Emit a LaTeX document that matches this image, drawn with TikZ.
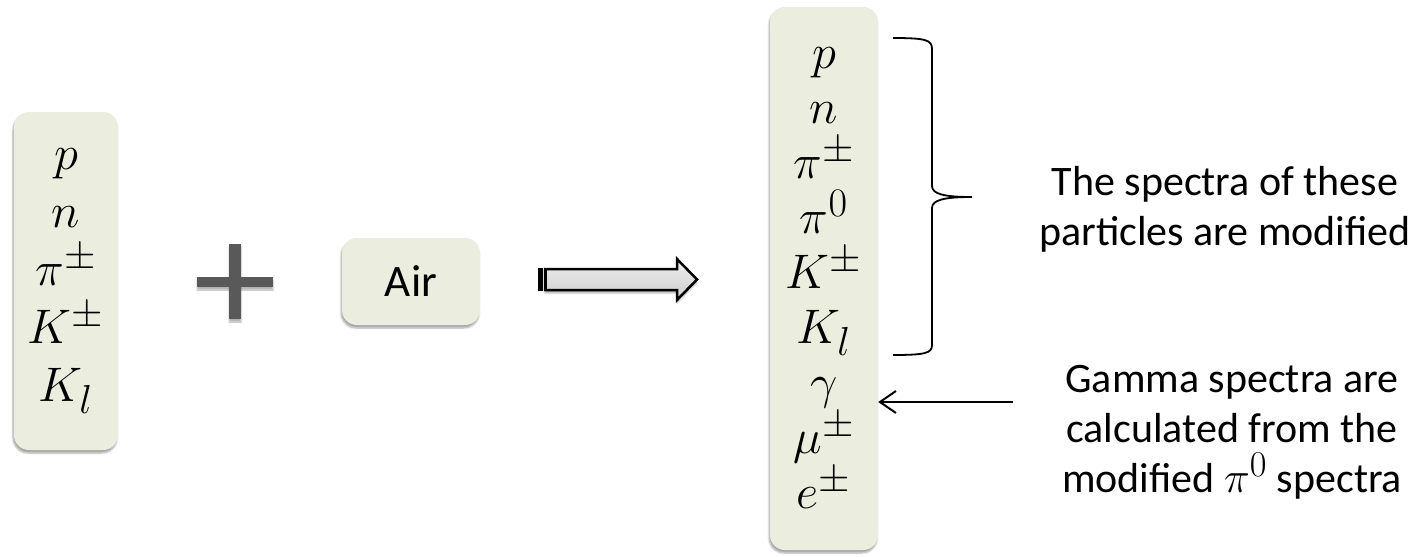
\documentclass[tikz,border=0pt]{standalone}
\usepackage{graphicx}
\usepackage{fontspec}
\newfontfamily\calib{Carlito}
\usetikzlibrary{shadows.blur,arrows.meta}
\definecolor{boxfill}{HTML}{EBEEDF}
\definecolor{plusgray}{HTML}{595959}
% math symbols set at the largest fixed size of the math fonts, then enlarged
\newcommand\bigsym[1]{\scalebox{1.95}{\fontsize{24.88}{30}\selectfont$#1$}}
\newcommand\notesym[1]{\scalebox{1.75}{\fontsize{24.88}{30}\selectfont$#1$}}
\tikzset{
  partbox/.style={draw=none, fill=boxfill, rounded corners=15pt,
    blur shadow={shadow xshift=-1pt, shadow yshift=-3pt, shadow opacity=35, shadow blur steps=6},
    align=center, inner sep=0pt},
  softshadow/.style={blur shadow={shadow xshift=0pt, shadow yshift=-3pt, shadow opacity=30, shadow blur steps=4}},
  note/.style={align=center, font=\calib\fontsize{42}{50}\selectfont},
  thin line/.style={line width=2pt, black},
}
\begin{document}
\begin{tikzpicture}[x=1pt,y=-1pt]
\useasboundingbox (0,0) rectangle (1422,557);

% incoming particles
\node[partbox, minimum width=104pt, minimum height=338pt,
      font=\fontsize{24.88}{58}\selectfont] (inbox) at (66,281)
  {\bigsym{p}\\\bigsym{n}\\\bigsym{\pi^{\pm}}\\\bigsym{K^{\pm}}\\\bigsym{K_l}};

% plus sign
\fill[plusgray, softshadow] (229,244) rectangle (241,319);
\fill[plusgray, softshadow] (197,277) rectangle (273,287);
\fill[plusgray] (229,244) rectangle (241,319);

% target
\node[partbox, minimum width=138pt, minimum height=87pt,
      font=\calib\fontsize{45}{54}\selectfont] (air) at (411,281.5) {Air};

% block arrow
\shade[top color=gray!12, bottom color=gray!40, draw=black, line width=2.5pt,
       line join=miter, softshadow]
  (545,269) -- (677,269) -- (677,259) -- (697,279.5) -- (677,300) -- (677,290) -- (545,290) -- cycle;
\fill[black] (538,268) rectangle (543,291);
\fill[black] (544.5,268) rectangle (547,291);

% outgoing particles
\node[partbox, minimum width=108pt, minimum height=543pt,
      font=\fontsize{24.88}{55}\selectfont] (outbox) at (824,278.5)
  {\bigsym{p}\\\bigsym{n}\\\bigsym{\pi^{\pm}}\\\bigsym{\pi^{0}}\\\bigsym{K^{\pm}}\\\bigsym{K_l}\\\bigsym{\gamma}\\\bigsym{\mu^{\pm}}\\\bigsym{e^{\pm}}};

% brace over the modified hadrons
\draw[thin line, line width=1.8pt]
  (893,38) .. controls (926,38) and (932,40) .. (932,49) -- (932,186)
  .. controls (932,194) and (944,197) .. (972,197)
  .. controls (944,197) and (932,200) .. (932,208) -- (932,345)
  .. controls (932,353) and (926,355) .. (893,355);

% notes
\node[note] (modnote) at (1225,209) {The spectra of these\\particles are modified};
\node[note] (gamnote) at (1232,432) {Gamma spectra are\\calculated from the\\modified \notesym{\pi^{0}} spectra};

% gamma arrow
\coordinate (gtail) at (1013,402);
\draw[thin line, -{Straight Barb[length=16pt, width=22pt, line width=2pt]}]
  (gtail) -- (outbox.east |- gtail);
\end{tikzpicture}
\end{document}
